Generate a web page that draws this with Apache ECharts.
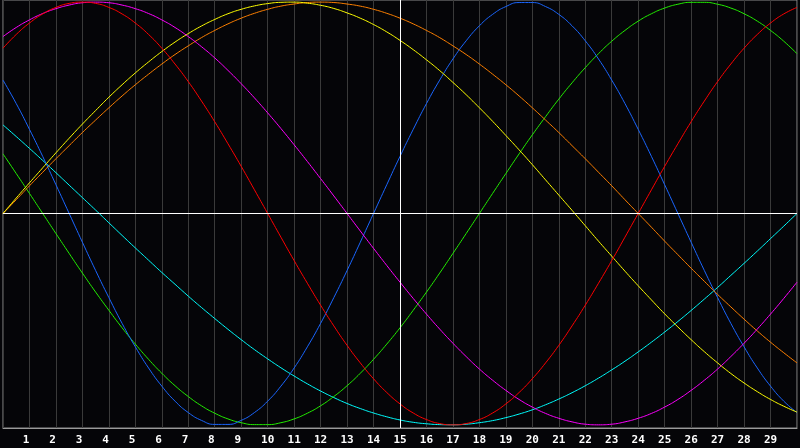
<!DOCTYPE html>
<html>
<head>
<meta charset="utf-8">
<script src="https://cdn.jsdelivr.net/npm/echarts@6/dist/echarts.min.js"></script>
<style>
html,body{margin:0;padding:0;background:#050508;}
#c{width:800px;height:448px;}
</style>
</head>
<body>
<div id="c"></div>
<script>
const xs = [0,0.5,1,1.5,2,2.5,3,3.5,4,4.5,5,5.5,6,6.5,7,7.5,8,8.5,9,9.5,10,10.5,11,11.5,12,12.5,13,13.5,14,14.5,15,15.5,16,16.5,17,17.5,18,18.5,19,19.5,20,20.5,21,21.5,22,22.5,23,23.5,24,24.5,25,25.5,26,26.5,27,27.5,28,28.5,29,29.5,30];
const tickLabels = ['1','2','3','4','5','6','7','8','9','10','11','12','13','14','15','16','17','18','19','20','21','22','23','24','25','26','27','28','29'];

const redVals = [0.782,0.847,0.901,0.944,0.975,0.994,1.000,0.994,0.975,0.944,0.901,0.847,0.782,0.707,0.624,0.532,0.434,0.330,0.223,0.112,0.000,-0.112,-0.223,-0.330,-0.434,-0.532,-0.624,-0.707,-0.782,-0.847,-0.901,-0.944,-0.975,-0.994,-1.000,-0.994,-0.975,-0.944,-0.901,-0.847,-0.782,-0.707,-0.624,-0.532,-0.434,-0.330,-0.223,-0.112,0.000,0.112,0.223,0.330,0.434,0.532,0.624,0.707,0.782,0.847,0.901,0.944,0.975];
const magentaVals = [0.837,0.880,0.916,0.946,0.969,0.986,0.997,1.000,0.997,0.986,0.969,0.946,0.916,0.880,0.837,0.789,0.736,0.677,0.614,0.547,0.476,0.402,0.325,0.246,0.165,0.083,0.000,-0.083,-0.165,-0.246,-0.325,-0.402,-0.476,-0.547,-0.614,-0.677,-0.736,-0.789,-0.837,-0.880,-0.916,-0.946,-0.969,-0.986,-0.997,-1.000,-0.997,-0.986,-0.969,-0.946,-0.916,-0.880,-0.837,-0.789,-0.736,-0.677,-0.614,-0.547,-0.476,-0.402,-0.325];
const yellowVals = [0.000,0.073,0.145,0.216,0.287,0.356,0.423,0.487,0.550,0.609,0.665,0.717,0.766,0.811,0.851,0.887,0.918,0.945,0.966,0.982,0.993,0.999,1.000,0.995,0.985,0.970,0.949,0.924,0.894,0.859,0.819,0.775,0.727,0.676,0.620,0.562,0.500,0.436,0.369,0.301,0.231,0.159,0.087,0.015,-0.058,-0.131,-0.202,-0.273,-0.342,-0.409,-0.475,-0.537,-0.597,-0.654,-0.707,-0.757,-0.802,-0.843,-0.880,-0.912,-0.940];
const orangeVals = [0.000,0.065,0.131,0.195,0.259,0.321,0.383,0.442,0.500,0.556,0.609,0.659,0.707,0.752,0.793,0.832,0.866,0.897,0.924,0.947,0.966,0.981,0.991,0.998,1.000,0.998,0.991,0.981,0.966,0.947,0.924,0.897,0.866,0.832,0.793,0.752,0.707,0.659,0.609,0.556,0.500,0.442,0.383,0.321,0.259,0.195,0.131,0.065,0.000,-0.065,-0.131,-0.195,-0.259,-0.321,-0.383,-0.442,-0.500,-0.556,-0.609,-0.659,-0.707];
const blueVals = [0.631,0.520,0.398,0.270,0.136,0.000,-0.136,-0.270,-0.398,-0.520,-0.631,-0.731,-0.817,-0.888,-0.942,-0.979,-0.998,-0.998,-0.979,-0.942,-0.888,-0.817,-0.731,-0.631,-0.520,-0.398,-0.270,-0.136,0.000,0.136,0.270,0.398,0.520,0.631,0.731,0.817,0.888,0.942,0.979,0.998,0.998,0.979,0.942,0.888,0.817,0.731,0.631,0.520,0.398,0.270,0.136,0.000,-0.136,-0.270,-0.398,-0.520,-0.631,-0.731,-0.817,-0.888,-0.942];
const greenVals = [0.282,0.189,0.095,0.000,-0.095,-0.189,-0.282,-0.372,-0.458,-0.541,-0.618,-0.690,-0.756,-0.815,-0.866,-0.910,-0.945,-0.972,-0.990,-0.999,-0.999,-0.990,-0.972,-0.945,-0.910,-0.866,-0.815,-0.756,-0.690,-0.618,-0.541,-0.458,-0.372,-0.282,-0.189,-0.095,0.000,0.095,0.189,0.282,0.372,0.458,0.541,0.618,0.690,0.756,0.815,0.866,0.910,0.945,0.972,0.990,0.999,0.999,0.990,0.972,0.945,0.910,0.866,0.815,0.756];
const cyanVals = [0.419,0.364,0.308,0.251,0.193,0.134,0.075,0.016,-0.044,-0.104,-0.163,-0.221,-0.279,-0.335,-0.391,-0.445,-0.497,-0.548,-0.597,-0.644,-0.688,-0.730,-0.769,-0.806,-0.840,-0.871,-0.899,-0.923,-0.944,-0.962,-0.977,-0.988,-0.995,-0.999,-1.000,-0.997,-0.990,-0.980,-0.966,-0.949,-0.929,-0.905,-0.878,-0.848,-0.815,-0.779,-0.740,-0.699,-0.655,-0.609,-0.561,-0.511,-0.459,-0.405,-0.350,-0.293,-0.236,-0.178,-0.119,-0.060,0.000];

const seriesDefs = [
  {name:'cyan', vals:cyanVals, color:'#00ffff'},
  {name:'green', vals:greenVals, color:'#22ee00'},
  {name:'blue', vals:blueVals, color:'#1a66ff'},
  {name:'orange', vals:orangeVals, color:'#ff8000'},
  {name:'yellow', vals:yellowVals, color:'#ffff00'},
  {name:'magenta', vals:magentaVals, color:'#ff00ff'},
  {name:'red', vals:redVals, color:'#ff0000'}
];

const chart = echarts.init(document.getElementById('c'), null, {renderer:'canvas'});

const series = [{
  type:'line', data:[], silent:true, z:1,
  markLine:{
    silent:true, symbol:['none','none'], animation:false,
    label:{show:false},
    lineStyle:{color:'#ffffff', width:1, type:'solid'},
    data:[{xAxis:15},{yAxis:0}]
  }
}].concat(seriesDefs.map(s => ({
  name:s.name, type:'line',
  data: xs.map((x,i) => [x, s.vals[i]]),
  smooth:0.5, showSymbol:false, symbol:'none',
  lineStyle:{color:s.color, width:1},
  itemStyle:{color:s.color},
  z:3
})));

chart.setOption({
  backgroundColor:'#050508',
  animation:false,
  grid:{left:0, right:1, top:0, height:428, show:true, borderColor:'#8c8c8c', borderWidth:1, backgroundColor:'transparent'},
  xAxis:{type:'value', min:0, max:30, interval:1,
    axisLine:{show:true, onZero:false, lineStyle:{color:'#9a9a9a', width:1}},
    axisTick:{show:false},
    splitLine:{show:true, lineStyle:{color:'#3a3a3a', width:1}},
    axisLabel:{show:true, margin:7, align:'center', color:'#ffffff',
      fontFamily:'DejaVu Sans Mono', fontWeight:'bold', fontSize:11,
      formatter: v => {
        if (v < 1 || v > 29) return '';
        const t = tickLabels[v-1];
        return t.length === 1 ? t + '\u00a0' : t;
      }
    }},
  yAxis:{type:'value', min:-1.015, max:1.01,
    axisLine:{show:false}, axisTick:{show:false}, axisLabel:{show:false}, splitLine:{show:false}},
  series: series
});
</script>
</body>
</html>
